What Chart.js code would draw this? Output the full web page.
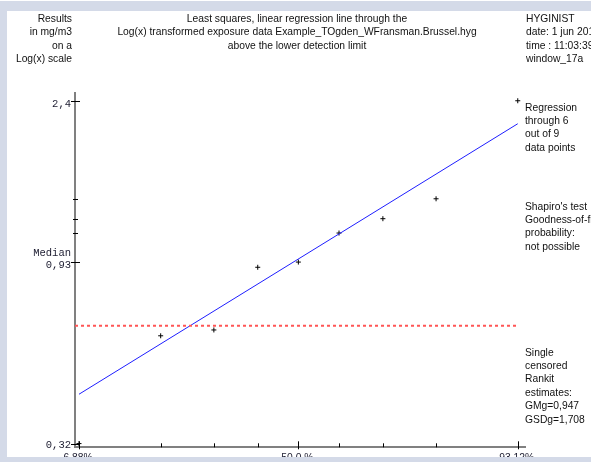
<!DOCTYPE html>
<html>
<head>
<meta charset="utf-8">
<title>Log-probability plot</title>
<script src="https://cdn.jsdelivr.net/npm/chart.js@4.4.0/dist/chart.umd.min.js"></script>
<style>
  html, body { margin: 0; padding: 0; background: #fff; }
  #frame {
    position: relative; width: 591px; height: 462px; overflow: hidden; background: #fff;
    font-family: "Liberation Sans", Arial, sans-serif; font-size: 10.3px; line-height: 13.4px; color: #111;
  }
  #frame canvas { position: absolute; left: 0; top: 0; }
  .edge { position: absolute; background: #d4dae8; }
  .note { position: absolute; white-space: nowrap; }
</style>
</head>
<body>
<div id="frame">
  <canvas id="chart" width="591" height="462"></canvas>

  <div class="note" style="left:0; top:12px; width:72px; text-align:right;">Results<br>in mg/m3<br>on a<br>Log(x) scale</div>
  <div class="note" style="left:97px; top:12px; width:400px; text-align:center;">Least squares, linear regression line through the<br>Log(x) transformed exposure data Example_TOgden_WFransman.Brussel.hyg<br>above the lower detection limit</div>
  <div class="note" style="left:526px; top:12px;">HYGINIST<br>date: 1 jun 201<br>time : 11:03:39<br>window_17a</div>

  <div class="note" style="left:525px; top:100.5px;">Regression<br>through 6<br>out of 9<br>data points</div>
  <div class="note" style="left:525px; top:199.5px;">Shapiro's test<br>Goodness-of-fit<br>probability:<br>not possible</div>
  <div class="note" style="left:525px; top:345.5px;">Single<br>censored<br>Rankit<br>estimates:<br>GMg=0,947<br>GSDg=1,708</div>

  <div class="edge" style="left:0; top:1px; width:591px; height:10px;"></div>
  <div class="edge" style="left:0; top:1px; width:7px; height:461px;"></div>
  <div class="edge" style="left:0; top:457px; width:591px; height:5px;"></div>
</div>

<script>
// Expected normal order statistics (rankits) for n = 9, and their probability labels
const rankits = [-1.485, -0.932, -0.572, -0.275, 0, 0.275, 0.572, 0.932, 1.485];
const rankitLabels = ['6,88%', '', '', '', '50,0 %', '', '', '', '93,12%'];

// Sorted measurement results (mg/m3)
const results = [0.32, 0.603, 0.624, 0.902, 0.93, 1.103, 1.2, 1.349, 2.4];

// Labelled y ticks and the extra marks placed at the upper results
const yTickValues = [2.4, 0.93, 0.32];
const yTickLabels = ['2,4', '0,93', '0,32'];
const yMarkValues = [1.103, 1.2, 1.349];

// Lower detection limit and the rankit estimates of the fit
const detectionLimit = 0.64;
const gmg = 0.947;
const gsdg = 1.708;

// Axis ranges (probit units on x, mg/m3 on a log scale on y)
const xRange = [-1.512, 1.534];
const yRange = [0.3131, 2.512];

const zFirst = rankits[0];
const zLast = rankits[rankits.length - 1];

const regressionLine = [
  { x: zFirst, y: gmg * Math.pow(gsdg, zFirst) },
  { x: zLast, y: gmg * Math.pow(gsdg, zLast) }
];
const detectionLine = [
  { x: xRange[0], y: detectionLimit },
  { x: zLast, y: detectionLimit }
];
const points = rankits.map((z, i) => ({ x: z, y: results[i] }));

// Tick marks and tick labels, positioned through the chart's scales
const axisDecor = {
  id: 'axisDecor',
  afterDraw(chart) {
    const { ctx, scales: { x, y } } = chart;
    const ax = x.left;
    const by = y.bottom;
    const seg = (x1, y1, x2, y2) => { ctx.beginPath(); ctx.moveTo(x1, y1); ctx.lineTo(x2, y2); ctx.stroke(); };

    ctx.save();
    ctx.strokeStyle = '#000';
    ctx.lineWidth = 1;

    yTickValues.forEach(v => {
      const py = Math.round(y.getPixelForValue(v)) + 0.5;
      seg(ax - 4, py, ax + 5, py);
    });
    yMarkValues.forEach(v => {
      const py = Math.round(y.getPixelForValue(v)) + 0.5;
      seg(ax - 2, py, ax + 3, py);
    });
    rankits.forEach((z, i) => {
      const px = Math.round(x.getPixelForValue(z)) + 0.5;
      if (rankitLabels[i]) seg(px, by - 6, px, by + 2);
      else seg(px, by - 4, px, by);
    });

    // y labels in a fixed-width face
    ctx.fillStyle = '#1c1c30';
    ctx.font = '10.5px "Liberation Mono", "DejaVu Sans Mono", monospace';
    ctx.textAlign = 'right';
    ctx.textBaseline = 'middle';
    const yOffsets = [3, 3.5, 1.5];
    yTickValues.forEach((v, i) => {
      ctx.fillText(yTickLabels[i], 71, y.getPixelForValue(v) + yOffsets[i]);
    });
    ctx.fillText('Median', 71, y.getPixelForValue(results[4]) - 8.5);

    // x labels
    ctx.font = '10.3px "Liberation Sans", Arial, sans-serif';
    ctx.textAlign = 'center';
    ctx.textBaseline = 'top';
    rankits.forEach((z, i) => {
      if (rankitLabels[i]) ctx.fillText(rankitLabels[i], x.getPixelForValue(z) - 1, by + 5.5);
    });
    ctx.restore();
  }
};

const hiddenGrid = { display: false, drawTicks: false, tickLength: 0 };

new Chart(document.getElementById('chart'), {
  type: 'scatter',
  data: {
    datasets: [
      {
        label: 'Lower detection limit',
        data: detectionLine,
        showLine: true,
        borderColor: 'rgb(255, 85, 85)',
        borderWidth: 2,
        borderDash: [3, 3],
        pointRadius: 0
      },
      {
        label: 'Regression',
        data: regressionLine,
        showLine: true,
        borderColor: 'rgb(30, 30, 255)',
        borderWidth: 1,
        pointRadius: 0
      },
      {
        label: 'Results',
        data: points,
        showLine: false,
        pointStyle: 'cross',
        pointRadius: 2.5,
        borderColor: '#000',
        borderWidth: 1
      }
    ]
  },
  options: {
    responsive: false,
    animation: false,
    devicePixelRatio: 1,
    events: [],
    layout: { padding: { left: 75, top: 93, right: 66, bottom: 14.7 }, autoPadding: false },
    plugins: { legend: { display: false }, tooltip: { enabled: false } },
    scales: {
      x: {
        type: 'linear', min: xRange[0], max: xRange[1], bounds: 'data',
        grid: hiddenGrid, ticks: { display: false, padding: 0 },
        border: { display: true, color: '#808080', width: 2 }
      },
      y: {
        type: 'logarithmic', min: yRange[0], max: yRange[1], bounds: 'data',
        grid: hiddenGrid, ticks: { display: false, padding: 0 },
        border: { display: true, color: '#808080', width: 2 }
      }
    }
  },
  plugins: [axisDecor]
});
</script>
</body>
</html>
